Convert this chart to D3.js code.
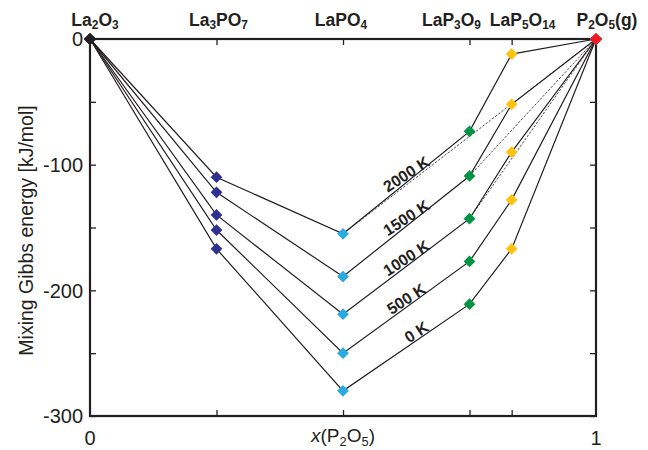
<!DOCTYPE html>
<html>
<head>
<meta charset="utf-8">
<script src="https://cdn.jsdelivr.net/npm/d3@7"></script>
<style>
body { margin: 0; background: #fff; }
svg { font-family: "Liberation Sans", Arial, Helvetica, sans-serif; }
</style>
</head>
<body>
<svg id="chart" width="648" height="450"></svg>
<script>
// phases along the La2O3 - P2O5 join
var phases = ['La_2O_3', 'La_3PO_7', 'LaPO_4', 'LaP_3O_9', 'LaP_5O_14', 'P_2O_5(g)'];
var xFrac = [0, 0.25, 0.5, 0.75, 0.8333, 1];
var phaseColors = ['#231f20', '#2e3192', '#29abe2', '#009444', '#ffc20e', '#ed1c24'];

var temps = ['2000 K', '1500 K', '1000 K', '500 K', '0 K'];
var g2000 = [0, -110, -155, -73.5, -12, 0];
var g1500 = [0, -122, -189, -109, -52, 0];
var g1000 = [0, -140, -219, -143, -90, 0];
var g500 = [0, -152, -250, -177, -128, 0];
var g0 = [0, -167, -280, -211, -167, 0];
var gibbs = [g2000, g1500, g1000, g500, g0];

// dashed hull segments (phase index from, to) where phases are metastable
var hull2000 = [2, 5];
var hull1500 = [3, 5];
var hull1000 = [3, 5];
var hulls = [hull2000, hull1500, hull1000, null, null];

var yTicks = [0, -100, -200, -300];
var xTickLabels = ['0', '1'];

var plotL = 90, plotR = 596, plotT = 39, plotB = 416;
var ink = '#231f20';

var svg = d3.select('#chart');
var x = d3.scaleLinear().domain([0, 1]).range([plotL, plotR]);
var y = d3.scaleLinear().domain([0, -300]).range([plotT, plotB]);

function formula(sel, str, size) {
	var parts = str.split(/(_\d+)/);
	var shifted = false;
	parts.forEach(function(p) {
		if (p === '') return;
		if (p.charAt(0) === '_') {
			sel.append('tspan').attr('font-size', size * 0.68).attr('dy', size * 0.2).text(p.slice(1));
			shifted = true;
		} else {
			sel.append('tspan').attr('dy', shifted ? -size * 0.2 : 0).text(p);
			shifted = false;
		}
	});
}

// frame
var minorTicks = d3.range(0, -301, -50);
var majorX = xFrac.slice(1, 5);

function noDomain(g) { g.select('.domain').remove(); }

svg.append('g').attr('transform', 'translate(0,' + plotB + ')')
	.call(d3.axisBottom(x).tickValues(majorX).tickSize(-6).tickFormat(''))
	.call(noDomain);
svg.append('g').attr('transform', 'translate(0,' + plotT + ')')
	.call(d3.axisTop(x).tickValues(majorX).tickSize(-6).tickFormat(''))
	.call(noDomain);
svg.append('g').attr('transform', 'translate(' + plotL + ',0)')
	.call(d3.axisLeft(y).tickValues(minorTicks).tickSize(-6).tickFormat(''))
	.call(noDomain);
svg.append('g').attr('transform', 'translate(' + plotR + ',0)')
	.call(d3.axisRight(y).tickValues(minorTicks).tickSize(-6).tickFormat(''))
	.call(noDomain);
svg.selectAll('.tick line').attr('stroke', ink).attr('stroke-width', 1.3);

svg.append('rect')
	.attr('x', plotL).attr('y', plotT)
	.attr('width', plotR - plotL).attr('height', plotB - plotT)
	.attr('fill', 'none').attr('stroke', ink).attr('stroke-width', 2.2);

// y tick labels
svg.selectAll('.ylab').data(yTicks).enter().append('text')
	.attr('x', plotL - 7)
	.attr('y', function(d) { return y(d); })
	.attr('dy', '0.36em')
	.attr('text-anchor', 'end')
	.attr('font-size', 20)
	.attr('fill', ink)
	.text(function(d) { return d; });

svg.selectAll('.xlab').data(xTickLabels).enter().append('text')
	.attr('x', function(d) { return x(+d); })
	.attr('y', 445)
	.attr('text-anchor', 'middle')
	.attr('font-size', 20)
	.attr('fill', ink)
	.text(function(d) { return d; });

var xTitle = svg.append('text')
	.attr('x', x(0.5))
	.attr('y', 442)
	.attr('text-anchor', 'middle')
	.attr('font-size', 19)
	.attr('fill', ink);
xTitle.append('tspan').attr('font-style', 'italic').text('x');
formula(xTitle, '(P_2O_5)', 19);

svg.append('text')
	.attr('transform', 'translate(33,' + ((plotT + plotB) / 2 + 3) + ') rotate(-90)')
	.attr('text-anchor', 'middle')
	.attr('font-size', 19.5)
	.attr('fill', ink)
	.text('Mixing Gibbs energy [kJ/mol]');

// phase names on top
var labelShift = [5, 2, -2, -18, 11, 11];
phases.forEach(function(p, i) {
	var t = svg.append('text')
		.attr('x', x(xFrac[i]) + labelShift[i])
		.attr('y', 25.5)
		.attr('text-anchor', 'middle')
		.attr('font-size', 17.5)
		.attr('font-weight', 'bold')
		.attr('fill', ink);
	formula(t, p, 17.5);
});

// dashed hull lines
gibbs.forEach(function(g, k) {
	var h = hulls[k];
	if (!h) return;
	svg.append('line')
		.attr('x1', x(xFrac[h[0]])).attr('y1', y(g[h[0]]))
		.attr('x2', x(xFrac[h[1]])).attr('y2', y(g[h[1]]))
		.attr('stroke', ink).attr('stroke-width', 0.8)
		.attr('stroke-dasharray', '2.5,1.5');
});

// solid lines
var line = d3.line()
	.x(function(d, i) { return x(xFrac[i]); })
	.y(function(d) { return y(d); });

svg.selectAll('.tline').data(gibbs).enter().append('path')
	.attr('d', line)
	.attr('fill', 'none')
	.attr('stroke', ink)
	.attr('stroke-width', 1.2);

// markers
var diamond = d3.symbol().type(d3.symbolDiamond2).size(88);
gibbs.forEach(function(g) {
	g.forEach(function(v, i) {
		svg.append('path')
			.attr('d', diamond)
			.attr('transform', 'translate(' + x(xFrac[i]) + ',' + y(v) + ')')
			.attr('fill', phaseColors[i]);
	});
});

// temperature labels along LaPO4 - LaP3O9 segments
temps.forEach(function(t, k) {
	var g = gibbs[k];
	var xf = k === 4 ? 0.645 : 0.625;
	var frac = (xf - xFrac[2]) / (xFrac[3] - xFrac[2]);
	var yv = g[2] + frac * (g[3] - g[2]);
	var px = x(xf), py = y(yv) - 8.5;
	svg.append('text')
		.attr('transform', 'translate(' + px + ',' + py + ') rotate(-33)')
		.attr('text-anchor', 'middle')
		.attr('dy', '0.35em')
		.attr('font-size', 16)
		.attr('font-weight', 'bold')
		.attr('fill', ink)
		.text(t);
});
</script>
</body>
</html>
